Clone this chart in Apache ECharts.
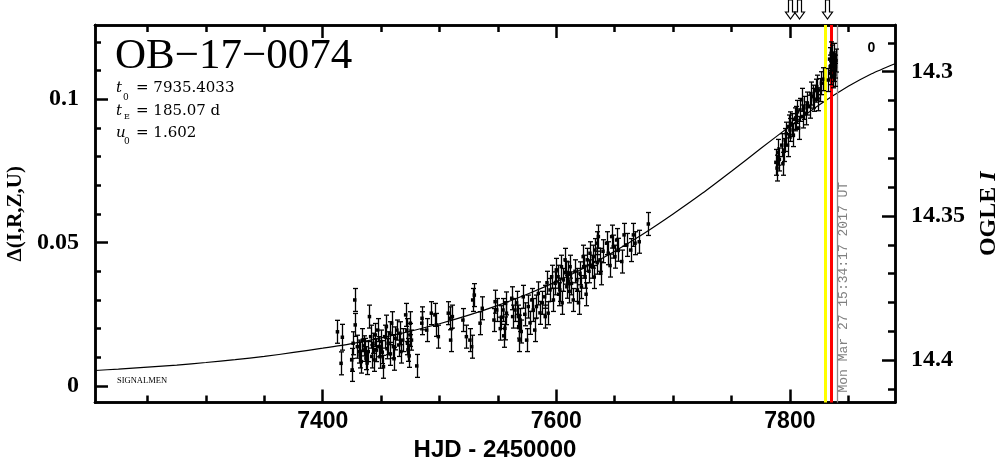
<!DOCTYPE html>
<html><head><meta charset="utf-8">
<script src="https://cdn.jsdelivr.net/npm/echarts@6/dist/echarts.min.js"></script>
<style>html,body{margin:0;padding:0;background:#fff}#c{width:999px;height:458px}</style>
</head><body><div id="c"></div>
<script>
// ---- axis ranges and ticks ----
const xMin = 7205, xMax = 7890;
const yMin = -0.00576, yMax = 0.1259;
const magMin = 14.2838, magMax = 14.4147;
const xMajorTicks = [7400, 7600, 7800];
const xMinorTicks = [7250, 7300, 7350, 7450, 7500, 7550, 7650, 7700, 7750, 7850];
const yMajorTicks = [0, 0.05, 0.1];
const yMinorTicks = [0.01, 0.02, 0.03, 0.04, 0.06, 0.07, 0.08, 0.09, 0.11, 0.12];
const magMajorTicks = [14.3, 14.35, 14.4];
const magMinorTicks = [14.29, 14.31, 14.32, 14.33, 14.34, 14.36, 14.37, 14.38, 14.39, 14.41];

// ---- observations: [HJD-2450000, delta, error] ----
const season2016a = [
 [7412.6,0.0189,0.004],[7415.7,0.0079,0.004],[7416.8,0.0170,0.0045],[7424.8,0.0091,0.004],
 [7425.2,0.0056,0.004],[7426.0,0.0149,0.004],[7427.4,0.0300,0.004],[7427.8,0.0213,0.004],
 [7429.6,0.0137,0.004],[7431.0,0.0120,0.004],[7432.0,0.0108,0.0045],[7433.0,0.0085,0.004],
 [7434.0,0.0160,0.004],[7435.0,0.0140,0.0035],[7436.0,0.0126,0.004],[7437.0,0.0097,0.004],
 [7438.0,0.0080,0.004],[7439.0,0.0120,0.0035],[7440.0,0.0242,0.004],[7441.0,0.0172,0.004],
 [7442.0,0.0103,0.004],[7443.0,0.0149,0.0035],[7444.0,0.0091,0.004],[7445.0,0.0178,0.004],
 [7446.0,0.0125,0.004],[7447.0,0.0195,0.004],[7448.0,0.0137,0.0035],[7449.0,0.0102,0.004],
 [7450.0,0.0155,0.004],[7451.0,0.0118,0.004],[7452.0,0.0067,0.004],[7453.0,0.0172,0.004],
 [7454.5,0.0207,0.004],[7455.0,0.0130,0.0035],[7456.0,0.0149,0.004],[7457.5,0.0184,0.004],
 [7458.0,0.0112,0.004],[7459.0,0.0219,0.004],[7460.5,0.0137,0.004],[7461.0,0.0095,0.004],
 [7462.0,0.0166,0.004],[7463.5,0.0195,0.0035],[7465.0,0.0143,0.004],[7466.0,0.0184,0.004],
 [7467.0,0.0120,0.004],[7468.5,0.0160,0.004]
];
const season2016b = [
 [7471.0,0.0248,0.004],[7472.0,0.0195,0.004],[7472.5,0.0149,0.004],[7473.0,0.0126,0.004],
 [7474.0,0.0105,0.004],[7474.7,0.0178,0.004],[7475.0,0.0219,0.004],[7476.0,0.0160,0.0035],
 [7480.5,0.0070,0.004],[7484.8,0.0219,0.004],[7485.0,0.0236,0.004],[7489.0,0.0195,0.004],
 [7493.0,0.0254,0.004],[7496.0,0.0248,0.004],[7497.3,0.0213,0.004],[7499.0,0.0172,0.004],
 [7507.5,0.0254,0.004],[7509.0,0.0236,0.004],[7509.5,0.0160,0.004],[7511.0,0.0242,0.004],
 [7520.0,0.0230,0.004],[7523.0,0.0172,0.004],[7526.0,0.0160,0.004],[7527.5,0.0137,0.004],
 [7528.4,0.0300,0.004],[7529.8,0.0317,0.004],[7534.7,0.0219,0.004],[7536.6,0.0271,0.004],
 [7546.6,0.0230,0.004],[7547.6,0.0294,0.004],[7549.0,0.0265,0.004],[7552.0,0.0200,0.004],
 [7553.0,0.0240,0.004],[7554.4,0.0265,0.004],[7555.0,0.0175,0.004],[7556.0,0.0201,0.004],
 [7556.5,0.0288,0.004],[7557.3,0.0254,0.004],[7561.8,0.0306,0.004],[7562.6,0.0242,0.004],
 [7564.6,0.0265,0.004],[7566.0,0.0290,0.004],[7567.5,0.0242,0.004],[7567.8,0.0207,0.004],
 [7568.2,0.0160,0.004],[7569.0,0.0230,0.004],[7570.0,0.0190,0.004],[7571.7,0.0311,0.004],
 [7573.0,0.0250,0.004],[7574.6,0.0160,0.004],[7576.0,0.0277,0.004],[7577.5,0.0220,0.004],
 [7579.0,0.0300,0.004],[7580.3,0.0265,0.004],[7581.5,0.0195,0.004],[7583.0,0.0277,0.004]
];
const season2016c = [
 [7584.6,0.0323,0.004],[7586.0,0.0255,0.004],[7588.0,0.0290,0.004],[7590.0,0.0311,0.004],
 [7590.5,0.0242,0.004],[7592.0,0.0360,0.004],[7593.0,0.0254,0.004],[7594.6,0.0335,0.004],
 [7596.0,0.0381,0.004],[7597.5,0.0300,0.004],[7599.0,0.0358,0.004],[7600.0,0.0405,0.004],
 [7601.5,0.0381,0.004],[7602.0,0.0320,0.004],[7603.0,0.0335,0.004],[7604.4,0.0416,0.004],
 [7605.0,0.0290,0.004],[7606.0,0.0370,0.004],[7607.5,0.0440,0.004],[7608.0,0.0395,0.004],
 [7609.0,0.0346,0.004],[7610.3,0.0393,0.004],[7611.0,0.0330,0.004],[7611.8,0.0416,0.004],
 [7613.0,0.0358,0.004],[7614.5,0.0300,0.004],[7616.0,0.0400,0.004],[7617.5,0.0370,0.004],
 [7618.0,0.0335,0.004],[7619.0,0.0290,0.004],[7620.3,0.0393,0.004],[7621.5,0.0345,0.004],
 [7623.0,0.0451,0.004],[7623.5,0.0416,0.004],[7624.6,0.0381,0.004],[7625.5,0.0320,0.004],
 [7626.5,0.0440,0.004],[7628.0,0.0400,0.004],[7628.8,0.0463,0.004],[7630.3,0.0416,0.004],
 [7631.7,0.0451,0.004],[7632.5,0.0380,0.004],[7633.0,0.0474,0.004],[7634.6,0.0498,0.004],
 [7635.0,0.0430,0.004],[7636.0,0.0521,0.004],[7637.4,0.0440,0.004],[7638.0,0.0393,0.004],
 [7640.0,0.0470,0.004],[7643.0,0.0498,0.004],[7644.5,0.0463,0.004],[7646.0,0.0420,0.004],
 [7647.4,0.0521,0.004],[7648.8,0.0486,0.004],[7650.2,0.0451,0.004],[7651.7,0.0509,0.004],
 [7653.0,0.0475,0.004],[7656.0,0.0434,0.004],[7658.0,0.0527,0.004],[7660.3,0.0492,0.004],
 [7663.7,0.0474,0.004],[7666.0,0.0527,0.004],[7667.4,0.0498,0.004],[7671.0,0.0503,0.004],
 [7678.8,0.0565,0.004]
];
const season2017 = [
 [7788.0,0.0780,0.0045],[7789.0,0.0760,0.0045],[7790.0,0.0815,0.0045],[7791.0,0.0790,0.004],
 [7793.0,0.0840,0.004],[7794.0,0.0775,0.004],[7795.0,0.0823,0.004],[7796.0,0.0858,0.004],
 [7797.0,0.0880,0.004],[7798.0,0.0840,0.004],[7799.0,0.0905,0.004],[7800.0,0.0893,0.004],
 [7800.5,0.0916,0.004],[7802.0,0.0910,0.004],[7803.0,0.0875,0.004],[7804.0,0.0930,0.004],
 [7805.0,0.0935,0.004],[7806.5,0.0956,0.004],[7807.5,0.0900,0.004],[7808.6,0.0963,0.004],
 [7810.0,0.0998,0.004],[7811.0,0.0940,0.004],[7812.0,0.0970,0.004],[7814.0,0.0951,0.004],
 [7815.0,0.0985,0.004],[7817.0,0.0974,0.004],[7818.0,0.1020,0.004],[7820.0,0.1009,0.004],
 [7821.0,0.0998,0.004],[7822.0,0.1030,0.004],[7823.0,0.1044,0.004],[7824.0,0.1000,0.004],
 [7825.5,0.1032,0.004],[7827.0,0.1056,0.004],[7828.0,0.1070,0.004],[7833.0,0.1067,0.004],
 [7834.0,0.1140,0.004],[7834.5,0.1114,0.004],[7835.0,0.1091,0.004],[7835.3,0.1160,0.004],
 [7836.0,0.1149,0.004],[7836.5,0.1080,0.004],[7837.0,0.1125,0.004],[7837.6,0.1102,0.004],
 [7838.0,0.1155,0.004],[7838.5,0.1085,0.004],[7839.0,0.1114,0.004],[7839.5,0.1135,0.004]
];

// ---- model curve ----
const modelHJD = [7205,7225,7250,7275,7300,7325,7350,7375,7400,7425,7450,7475,7500,7525,7550,7575,
                  7600,7625,7650,7675,7700,7725,7750,7775,7800,7825,7850,7870,7890];
const modelDelta = [0.0054,0.0059,0.0066,0.0073,0.0082,0.0092,0.0103,0.0117,0.0132,0.0148,0.0168,0.0191,
                    0.0217,0.0247,0.0281,0.0320,0.0364,0.0414,0.0470,0.0532,0.0600,0.0672,0.0749,0.0828,
                    0.0906,0.0980,0.1045,0.1089,0.1124];

// ---- annotations ----
const arrowHJD = [7799.8, 7808.0, 7832.0];
const yellowHJD = 7830.5, redHJD = 7835.6, nowHJD = 7840.15;
const eventName = 'OB\u221217\u22120074';
const paramT0 = '7935.4033', paramTE = '185.07 d', paramU0 = '1.602';
const nowLabel = 'Mon Mar 27 15:34:17 2017 UT';

const obs = season2016a.concat(season2016b, season2016c, season2017);

const chart = echarts.init(document.getElementById('c'), null, {renderer: 'canvas'});
const frame = {color: '#000', width: 2.5};
const tickStyle = {color: '#000', width: 2.5};
const serifBold = {fontFamily: 'Liberation Serif', fontWeight: 'bold', color: '#000'};

function xAx(pos, ticks, len, labels, extra) {
  return Object.assign({
    type: 'value', position: pos, min: xMin, max: xMax,
    axisLine: {show: true, onZero: false, lineStyle: frame},
    axisTick: {show: true, inside: true, length: len, lineStyle: tickStyle, customValues: ticks},
    axisLabel: labels ? {show: true, customValues: ticks, margin: 8, formatter: v => String(v),
      fontFamily: 'Liberation Sans', fontWeight: 'bold', fontSize: 23, color: '#000'} : {show: false},
    splitLine: {show: false}
  }, extra || {});
}
function yAx(pos, mn, mx, inv, ticks, len, labels, extra) {
  return Object.assign({
    type: 'value', position: pos, min: mn, max: mx, inverse: inv,
    axisLine: {show: true, onZero: false, lineStyle: frame},
    axisTick: {show: true, inside: true, length: len, lineStyle: tickStyle, customValues: ticks},
    axisLabel: labels ? Object.assign({show: true, customValues: ticks, margin: 16, fontSize: 24,
      formatter: v => String(v)}, serifBold) : {show: false},
    splitLine: {show: false}
  }, extra || {});
}

chart.setOption({
  animation: false,
  backgroundColor: '#fff',
  grid: {left: 95, right: 104, top: 25, bottom: 55.5, containLabel: false, outerBoundsMode: 'none'},
  xAxis: [
    xAx('bottom', xMajorTicks, 13, true, {
      name: 'HJD - 2450000', nameLocation: 'middle', nameGap: 23,
      nameTextStyle: {fontFamily: 'Liberation Sans', fontWeight: 'bold', fontSize: 24, color: '#000'}
    }),
    xAx('bottom', xMinorTicks, 7, false),
    xAx('top', xMajorTicks, 13, false),
    xAx('top', xMinorTicks, 7, false)
  ],
  yAxis: [
    yAx('left', yMin, yMax, false, yMajorTicks, 13, true, {
      name: '\u0394(I,R,Z,U)', nameLocation: 'middle', nameGap: 67, nameRotate: 90,
      nameTextStyle: Object.assign({fontSize: 21}, serifBold)
    }),
    yAx('left', yMin, yMax, false, yMinorTicks, 6, false),
    yAx('right', magMin, magMax, true, magMajorTicks, 13, true, {
      name: 'OGLE {it|I}', nameLocation: 'middle', nameGap: 82, nameRotate: 90,
      nameTextStyle: Object.assign({fontSize: 24, rich: {it: Object.assign({fontSize: 24, fontStyle: 'italic'}, serifBold)}}, serifBold)
    }),
    yAx('right', magMin, magMax, true, magMinorTicks, 7, false)
  ],
  series: [
    {
      type: 'line', xAxisIndex: 0, yAxisIndex: 0, z: 2,
      data: modelHJD.map((d, i) => [d, modelDelta[i]]),
      smooth: 0.2, showSymbol: false, symbol: 'none',
      lineStyle: {color: '#000', width: 1.2}, silent: true,
      markLine: {
        symbol: 'none', silent: true, label: {show: false},
        data: [
          {xAxis: yellowHJD, lineStyle: {color: '#ffff00', width: 3, type: 'solid'}},
          {xAxis: redHJD, lineStyle: {color: '#ff0000', width: 3, type: 'solid'}},
          {xAxis: nowHJD, lineStyle: {color: '#8c8c8c', width: 1.3, type: 'solid'}}
        ]
      }
    },
    {
      type: 'custom', xAxisIndex: 0, yAxisIndex: 0, z: 5, silent: true,
      data: obs, encode: {x: 0, y: 1},
      renderItem: function (params, api) {
        const x = api.value(0), y = api.value(1), e = api.value(2);
        const c = api.coord([x, y]);
        const lo = api.coord([x, y - e]);
        const hi = api.coord([x, y + e]);
        const px = Math.round(c[0]) + 0.5;
        const st = {stroke: '#000', lineWidth: 1.3};
        return {type: 'group', children: [
          {type: 'line', shape: {x1: px, y1: lo[1], x2: px, y2: hi[1]}, style: st},
          {type: 'line', shape: {x1: px - 2.5, y1: lo[1], x2: px + 2.5, y2: lo[1]}, style: st},
          {type: 'line', shape: {x1: px - 2.5, y1: hi[1], x2: px + 2.5, y2: hi[1]}, style: st},
          {type: 'rect', shape: {x: c[0] - 1.75, y: c[1] - 1.75, width: 3.5, height: 3.5}, style: {fill: '#000'}}
        ]};
      }
    },
    {
      type: 'custom', xAxisIndex: 0, yAxisIndex: 0, z: 6, silent: true, clip: false,
      data: arrowHJD.map(d => [d, yMax]), encode: {x: 0, y: 1},
      renderItem: function (params, api) {
        const c = api.coord([api.value(0), api.value(1)]);
        const x = Math.round(c[0]) + 0.5, t = c[1] - 25;
        return {type: 'polygon', shape: {points: [
          [x - 2, t], [x + 2, t], [x + 2, t + 12], [x + 5, t + 12], [x, t + 19], [x - 5, t + 12], [x - 2, t + 12]
        ]}, style: {fill: '#fff', stroke: '#000', lineWidth: 1.2}};
      }
    }
  ]
});

const nowPx = chart.convertToPixel({xAxisIndex: 0}, nowHJD);
const bottomPx = chart.convertToPixel({yAxisIndex: 0}, yMin);
function txt(x, y, text, size, opts) {
  return Object.assign({type: 'text', x: x, y: y, silent: true, z: 10, style: Object.assign({
    text: text, fontSize: size, fontFamily: 'DejaVu Serif', fill: '#000',
    align: 'left', textAlign: 'left', verticalAlign: 'middle', textVerticalAlign: 'middle'
  }, opts || {})});
}
chart.setOption({
  graphic: [
    txt(115, 56.5, eventName, 43, {fontFamily: 'Liberation Serif'}),
    txt(116, 88, 't', 15, {fontStyle: 'italic'}),
    txt(123, 98, '0', 9),
    txt(136, 88, '= ' + paramT0, 15),
    txt(116, 111, 't', 15, {fontStyle: 'italic'}),
    txt(124, 117, 'E', 8),
    txt(136, 111, '= ' + paramTE, 15),
    txt(116, 133, 'u', 15, {fontStyle: 'italic'}),
    txt(124, 142, '0', 9),
    txt(136, 133, '= ' + paramU0, 15),
    txt(117, 381, 'SIGNALMEN', 8.5, {fontFamily: 'Liberation Serif'}),
    txt(871.5, 48, '0', 14, {fontFamily: 'Liberation Sans', fontWeight: 'bold', align: 'center', textAlign: 'center'}),
    Object.assign(txt(nowPx + 6.5, bottomPx - 10, nowLabel, 13, {fontFamily: 'Liberation Mono', fill: '#808080'}), {rotation: Math.PI / 2})
  ]
});
</script>
</body></html>
